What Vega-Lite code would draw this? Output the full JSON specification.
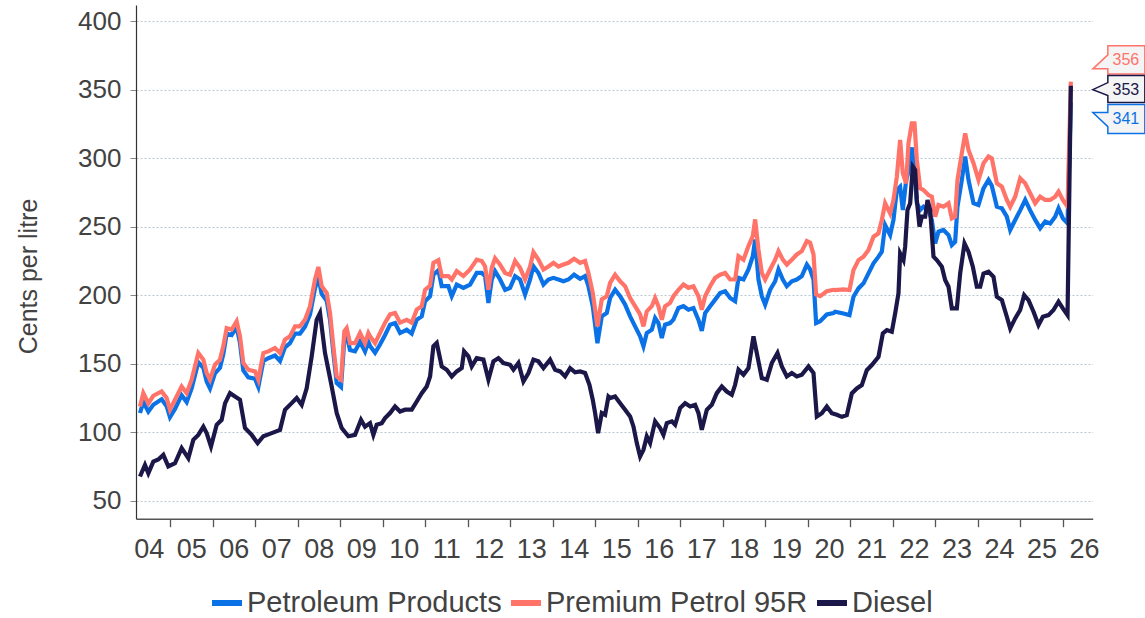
{
  "$schema": "https://vega.github.io/schema/vega-lite/v6.json",
  "width": 956.7,
  "height": 513.7,
  "autosize": "none",
  "padding": {"left": 136, "top": 5, "right": 52.3, "bottom": 99.3},
  "background": "white",
  "config": {
    "font": "Liberation Sans",
    "view": {"stroke": null}
  },
  "datasets": {
    "pp": [
      {"t":2004.294,"v":114},{"t":2004.372,"v":122},{"t":2004.490,"v":115},{"t":2004.607,"v":120},{"t":2004.803,"v":124},{"t":2004.921,"v":119},{"t":2004.999,"v":111},{"t":2005.117,"v":117},{"t":2005.274,"v":127},{"t":2005.392,"v":122},{"t":2005.509,"v":132},{"t":2005.666,"v":151},{"t":2005.784,"v":147},{"t":2005.862,"v":137},{"t":2005.941,"v":132},{"t":2006.058,"v":143},{"t":2006.176,"v":147},{"t":2006.254,"v":157},{"t":2006.333,"v":172},{"t":2006.450,"v":171},{"t":2006.568,"v":177},{"t":2006.646,"v":165},{"t":2006.725,"v":145},{"t":2006.843,"v":140},{"t":2006.999,"v":139},{"t":2007.078,"v":133},{"t":2007.196,"v":152},{"t":2007.313,"v":154},{"t":2007.470,"v":156},{"t":2007.588,"v":152},{"t":2007.705,"v":162},{"t":2007.823,"v":165},{"t":2007.941,"v":172},{"t":2008.058,"v":172},{"t":2008.176,"v":177},{"t":2008.294,"v":186},{"t":2008.411,"v":205},{"t":2008.490,"v":213},{"t":2008.568,"v":201},{"t":2008.686,"v":196},{"t":2008.764,"v":182},{"t":2008.843,"v":158},{"t":2008.921,"v":136},{"t":2009.023,"v":133},{"t":2009.101,"v":168},{"t":2009.156,"v":171},{"t":2009.235,"v":160},{"t":2009.352,"v":159},{"t":2009.470,"v":166},{"t":2009.588,"v":159},{"t":2009.666,"v":166},
      {"t":2009.706,"v":163},{"t":2009.824,"v":158},{"t":2009.941,"v":164},{"t":2010.059,"v":171},{"t":2010.177,"v":178.5},{"t":2010.294,"v":179.7},{"t":2010.412,"v":172.4},{"t":2010.569,"v":174.8},{"t":2010.686,"v":172},{"t":2010.804,"v":182},{"t":2010.922,"v":184.6},{"t":2011.000,"v":195.6},{"t":2011.118,"v":199.3},{"t":2011.196,"v":215},{"t":2011.314,"v":218.3},{"t":2011.392,"v":206.6},{"t":2011.549,"v":206.6},{"t":2011.628,"v":199.3},{"t":2011.745,"v":207.8},{"t":2011.902,"v":205.4},{"t":2012.059,"v":207.8},{"t":2012.216,"v":216.3},{"t":2012.334,"v":216.3},{"t":2012.412,"v":214},{"t":2012.490,"v":194.4},{"t":2012.569,"v":211.5},{"t":2012.647,"v":217.6},{"t":2012.765,"v":211.5},{"t":2012.883,"v":204},{"t":2013.000,"v":205.4},{"t":2013.118,"v":214},{"t":2013.235,"v":211.5},{"t":2013.353,"v":200.5},{"t":2013.471,"v":211.5},{"t":2013.549,"v":221.2},{"t":2013.667,"v":216.3},{"t":2013.785,"v":207.8},{"t":2013.902,"v":211.5},{"t":2014.020,"v":212.7},{"t":2014.137,"v":211.5},{"t":2014.255,"v":210.2},{"t":2014.373,"v":211.5},{"t":2014.506,"v":215},{"t":2014.647,"v":212},{"t":2014.765,"v":214},{"t":2014.843,"v":206.6},{"t":2014.945,"v":192},{"t":2015.055,"v":165},{"t":2015.157,"v":184.6},{"t":2015.275,"v":187},
      {"t":2015.353,"v":198},{"t":2015.471,"v":204},{"t":2015.589,"v":199.3},{"t":2015.706,"v":193.2},{"t":2015.824,"v":184.6},{"t":2015.941,"v":177.3},{"t":2016.059,"v":170},{"t":2016.138,"v":162.7},{"t":2016.216,"v":172.4},{"t":2016.334,"v":174.8},{"t":2016.412,"v":183.4},{"t":2016.490,"v":179.7},{"t":2016.569,"v":168.8},{"t":2016.647,"v":178.5},{"t":2016.765,"v":179.7},{"t":2016.843,"v":182.2},{"t":2016.961,"v":190.7},{"t":2017.079,"v":192},{"t":2017.196,"v":189.5},{"t":2017.314,"v":190.7},{"t":2017.432,"v":182},{"t":2017.510,"v":174},{"t":2017.589,"v":187},{"t":2017.706,"v":192},{"t":2017.824,"v":196.8},{"t":2017.941,"v":201.7},{"t":2018.059,"v":202.9},{"t":2018.177,"v":198},{"t":2018.294,"v":195.6},{"t":2018.373,"v":212.7},{"t":2018.491,"v":211.5},{"t":2018.608,"v":218.8},{"t":2018.710,"v":228.5},{"t":2018.765,"v":240.7},{"t":2018.843,"v":211.5},{"t":2018.922,"v":199.3},{"t":2019.000,"v":193.2},{"t":2019.118,"v":204},{"t":2019.236,"v":210.2},{"t":2019.314,"v":218.8},{"t":2019.416,"v":211.5},{"t":2019.510,"v":206.6},{"t":2019.628,"v":210.2},{"t":2019.746,"v":211.5},{"t":2019.863,"v":214},{"t":2019.981,"v":222.4},{"t":2020.059,"v":218.8},{"t":2020.138,"v":211.5},{"t":2020.200,"v":179.7},{"t":2020.294,"v":181},{"t":2020.451,"v":186},{"t":2020.608,"v":187},
      {"t":2020.647,"v":188},{"t":2020.843,"v":186.7},{"t":2020.984,"v":185.5},{"t":2021.078,"v":198.9},{"t":2021.196,"v":205},{"t":2021.314,"v":208.7},{"t":2021.431,"v":216},{"t":2021.549,"v":223.3},{"t":2021.667,"v":228.2},{"t":2021.745,"v":231.8},{"t":2021.823,"v":251.3},{"t":2021.941,"v":244},{"t":2022.019,"v":255},{"t":2022.098,"v":276.9},{"t":2022.176,"v":279.3},{"t":2022.239,"v":262.3},{"t":2022.318,"v":284.2},{"t":2022.372,"v":290},{"t":2022.451,"v":308},{"t":2022.514,"v":291.5},{"t":2022.569,"v":267.2},{"t":2022.647,"v":262.3},{"t":2022.725,"v":264.7},{"t":2022.843,"v":262.3},{"t":2022.921,"v":255},{"t":2023.000,"v":237.9},{"t":2023.078,"v":246.4},{"t":2023.196,"v":247.7},{"t":2023.314,"v":244},{"t":2023.392,"v":236.7},{"t":2023.470,"v":239.1},{"t":2023.525,"v":264.7},{"t":2023.627,"v":284.2},{"t":2023.706,"v":301.3},{"t":2023.784,"v":284.2},{"t":2023.902,"v":267.2},{"t":2024.019,"v":265.9},{"t":2024.137,"v":278.1},{"t":2024.255,"v":284.2},{"t":2024.333,"v":280},{"t":2024.451,"v":264.7},{"t":2024.569,"v":263.5},{"t":2024.686,"v":257.4},{"t":2024.765,"v":247.7},{"t":2024.882,"v":255},{"t":2025.000,"v":262},{"t":2025.118,"v":269.6},{"t":2025.235,"v":262},{"t":2025.353,"v":255},{"t":2025.470,"v":249},{"t":2025.588,"v":253.8},{"t":2025.706,"v":252.5},{"t":2025.823,"v":257.4},{"t":2025.902,"v":263.5},{"t":2026.004,"v":256.2},{"t":2026.114,"v":252.5},{"t":2026.192,"v":341}
    ],
    "pr": [
      {"t":2004.294,"v":118.8},{"t":2004.372,"v":128.5},{"t":2004.490,"v":121},{"t":2004.607,"v":126.6},{"t":2004.803,"v":129.8},{"t":2004.921,"v":125},{"t":2004.999,"v":116.4},{"t":2005.117,"v":123.7},{"t":2005.274,"v":133.4},{"t":2005.392,"v":128.5},{"t":2005.509,"v":138.3},{"t":2005.666,"v":157.8},{"t":2005.784,"v":153},{"t":2005.862,"v":143.2},{"t":2005.941,"v":138.3},{"t":2006.058,"v":149.3},{"t":2006.176,"v":153},{"t":2006.254,"v":162.7},{"t":2006.333,"v":176},{"t":2006.450,"v":175},{"t":2006.568,"v":181},{"t":2006.646,"v":170},{"t":2006.725,"v":150.5},{"t":2006.843,"v":145.6},{"t":2006.999,"v":144.4},{"t":2007.078,"v":138.3},{"t":2007.196,"v":157.8},{"t":2007.313,"v":159},{"t":2007.470,"v":161.5},{"t":2007.588,"v":157.8},{"t":2007.705,"v":167.6},{"t":2007.823,"v":170},{"t":2007.941,"v":177.3},{"t":2008.058,"v":177.3},{"t":2008.176,"v":182.2},{"t":2008.294,"v":192},{"t":2008.411,"v":211.5},{"t":2008.490,"v":220.7},{"t":2008.568,"v":206.6},{"t":2008.686,"v":201.7},{"t":2008.764,"v":187},{"t":2008.843,"v":162.7},{"t":2008.921,"v":140.7},{"t":2009.023,"v":138.3},{"t":2009.101,"v":173.7},{"t":2009.156,"v":176},{"t":2009.235,"v":165},{"t":2009.352,"v":165},{"t":2009.470,"v":172.4},{"t":2009.588,"v":165},{"t":2009.666,"v":172.4},
      {"t":2009.706,"v":170},{"t":2009.824,"v":165},{"t":2009.941,"v":172.4},{"t":2010.059,"v":180},{"t":2010.177,"v":186},{"t":2010.294,"v":187},{"t":2010.412,"v":180},{"t":2010.569,"v":182},{"t":2010.686,"v":180},{"t":2010.804,"v":189.5},{"t":2010.922,"v":192},{"t":2011.000,"v":204},{"t":2011.118,"v":207},{"t":2011.196,"v":223.7},{"t":2011.314,"v":225.6},{"t":2011.392,"v":214},{"t":2011.549,"v":214},{"t":2011.628,"v":211.5},{"t":2011.745,"v":217.6},{"t":2011.902,"v":214},{"t":2012.059,"v":218.8},{"t":2012.216,"v":226},{"t":2012.334,"v":225},{"t":2012.412,"v":221},{"t":2012.490,"v":204},{"t":2012.569,"v":220},{"t":2012.647,"v":227},{"t":2012.765,"v":222.4},{"t":2012.883,"v":216.3},{"t":2013.000,"v":215},{"t":2013.118,"v":225},{"t":2013.235,"v":220},{"t":2013.353,"v":211.5},{"t":2013.471,"v":221},{"t":2013.549,"v":231.5},{"t":2013.667,"v":226},{"t":2013.785,"v":218.8},{"t":2013.902,"v":221},{"t":2014.020,"v":223.7},{"t":2014.137,"v":221},{"t":2014.255,"v":222.4},{"t":2014.373,"v":223.7},{"t":2014.506,"v":226.6},{"t":2014.647,"v":223.7},{"t":2014.765,"v":225},{"t":2014.843,"v":216.3},{"t":2014.945,"v":201.7},{"t":2015.055,"v":177.3},{"t":2015.157,"v":197},{"t":2015.275,"v":199.3},
      {"t":2015.353,"v":209},{"t":2015.471,"v":215},{"t":2015.589,"v":210.2},{"t":2015.706,"v":206.6},{"t":2015.824,"v":198},{"t":2015.941,"v":192},{"t":2016.059,"v":186},{"t":2016.138,"v":177.3},{"t":2016.216,"v":188.2},{"t":2016.334,"v":192},{"t":2016.412,"v":198},{"t":2016.490,"v":192},{"t":2016.569,"v":182.2},{"t":2016.647,"v":192},{"t":2016.765,"v":194.4},{"t":2016.843,"v":199.3},{"t":2016.961,"v":204},{"t":2017.079,"v":207.8},{"t":2017.196,"v":205.4},{"t":2017.314,"v":206.6},{"t":2017.432,"v":199.3},{"t":2017.510,"v":189.5},{"t":2017.589,"v":199.3},{"t":2017.706,"v":206.6},{"t":2017.824,"v":212.7},{"t":2017.941,"v":215},{"t":2018.059,"v":216.3},{"t":2018.177,"v":211.5},{"t":2018.294,"v":211.5},{"t":2018.373,"v":228.5},{"t":2018.491,"v":226},{"t":2018.608,"v":235.9},{"t":2018.710,"v":243.2},{"t":2018.765,"v":255.4},{"t":2018.843,"v":233.4},{"t":2018.922,"v":216.3},{"t":2019.000,"v":211.5},{"t":2019.118,"v":218.8},{"t":2019.236,"v":226},{"t":2019.314,"v":232.2},{"t":2019.416,"v":226},{"t":2019.510,"v":222.4},{"t":2019.628,"v":226},{"t":2019.746,"v":229.8},{"t":2019.863,"v":232.2},{"t":2019.981,"v":239.5},{"t":2020.059,"v":238.3},{"t":2020.138,"v":229.8},{"t":2020.200,"v":200.5},{"t":2020.294,"v":199.3},{"t":2020.451,"v":202.9},{"t":2020.608,"v":204},
      {"t":2020.647,"v":203.8},{"t":2020.843,"v":204.3},{"t":2020.984,"v":203.8},{"t":2021.078,"v":218.4},{"t":2021.196,"v":225.7},{"t":2021.314,"v":228.2},{"t":2021.431,"v":233},{"t":2021.549,"v":242.8},{"t":2021.667,"v":245.2},{"t":2021.745,"v":255},{"t":2021.823,"v":267.2},{"t":2021.941,"v":259.8},{"t":2022.019,"v":269.6},{"t":2022.098,"v":286.6},{"t":2022.176,"v":313.4},{"t":2022.239,"v":289.1},{"t":2022.318,"v":281.8},{"t":2022.372,"v":311},{"t":2022.451,"v":325.6},{"t":2022.514,"v":325.6},{"t":2022.569,"v":298.8},{"t":2022.647,"v":278.1},{"t":2022.725,"v":276.9},{"t":2022.843,"v":273.2},{"t":2022.921,"v":272},{"t":2023.000,"v":257.4},{"t":2023.078,"v":265.9},{"t":2023.196,"v":264.7},{"t":2023.314,"v":267.2},{"t":2023.392,"v":256.2},{"t":2023.470,"v":257.4},{"t":2023.525,"v":284.2},{"t":2023.627,"v":303.7},{"t":2023.706,"v":318.3},{"t":2023.784,"v":306.1},{"t":2023.902,"v":296.4},{"t":2024.019,"v":284.2},{"t":2024.137,"v":296.4},{"t":2024.255,"v":301.3},{"t":2024.333,"v":300},{"t":2024.451,"v":281.8},{"t":2024.569,"v":279.3},{"t":2024.686,"v":269.6},{"t":2024.765,"v":264.7},{"t":2024.882,"v":272},{"t":2025.000,"v":285.4},{"t":2025.118,"v":281.8},{"t":2025.235,"v":274.5},{"t":2025.353,"v":267.2},{"t":2025.470,"v":272},{"t":2025.588,"v":269.6},{"t":2025.706,"v":269.6},{"t":2025.823,"v":272},{"t":2025.902,"v":275.7},{"t":2026.004,"v":269.6},{"t":2026.114,"v":264.7},{"t":2026.192,"v":356}
    ],
    "ds": [
      {"t":2004.294,"v":67.6},{"t":2004.411,"v":76},{"t":2004.490,"v":70},{"t":2004.607,"v":78.5},{"t":2004.725,"v":80},{"t":2004.843,"v":83.4},{"t":2004.960,"v":75},{"t":2005.117,"v":77.3},{"t":2005.274,"v":88.3},{"t":2005.431,"v":81},{"t":2005.548,"v":94.4},{"t":2005.666,"v":98},{"t":2005.784,"v":104},{"t":2005.862,"v":99.3},{"t":2005.964,"v":89.5},{"t":2006.098,"v":105.4},{"t":2006.215,"v":109},{"t":2006.294,"v":121},{"t":2006.411,"v":128.5},{"t":2006.529,"v":126},{"t":2006.646,"v":123.7},{"t":2006.764,"v":103},{"t":2006.921,"v":98},{"t":2007.062,"v":92},{"t":2007.196,"v":97},{"t":2007.392,"v":99.3},{"t":2007.588,"v":101.7},{"t":2007.705,"v":116.4},{"t":2007.862,"v":121.2},{"t":2007.980,"v":125},{"t":2008.098,"v":120},{"t":2008.215,"v":132},{"t":2008.333,"v":155.4},{"t":2008.450,"v":182},{"t":2008.529,"v":187},{"t":2008.646,"v":157.8},{"t":2008.803,"v":133.4},{"t":2008.921,"v":114},{"t":2009.039,"v":103},{"t":2009.195,"v":97},{"t":2009.352,"v":98},{"t":2009.493,"v":109},{"t":2009.588,"v":104},{"t":2009.705,"v":106.6},
      {"t":2009.784,"v":98},{"t":2009.863,"v":105.4},{"t":2009.981,"v":106.6},{"t":2010.059,"v":110.3},{"t":2010.177,"v":114},{"t":2010.294,"v":118.8},{"t":2010.412,"v":115.1},{"t":2010.530,"v":116.4},{"t":2010.686,"v":116.4},{"t":2010.804,"v":122.4},{"t":2010.922,"v":128.5},{"t":2011.039,"v":133.4},{"t":2011.118,"v":140.7},{"t":2011.196,"v":162.7},{"t":2011.275,"v":165.1},{"t":2011.392,"v":148},{"t":2011.510,"v":145.6},{"t":2011.628,"v":140.7},{"t":2011.745,"v":144.4},{"t":2011.863,"v":146.8},{"t":2011.918,"v":159},{"t":2012.020,"v":155.4},{"t":2012.098,"v":148},{"t":2012.216,"v":154.1},{"t":2012.373,"v":153},{"t":2012.490,"v":138.3},{"t":2012.608,"v":151.7},{"t":2012.726,"v":154.1},{"t":2012.843,"v":150.5},{"t":2013.000,"v":149.2},{"t":2013.079,"v":145.6},{"t":2013.196,"v":150.5},{"t":2013.314,"v":137},{"t":2013.432,"v":143.2},{"t":2013.549,"v":153},{"t":2013.667,"v":151.7},{"t":2013.785,"v":146.8},{"t":2013.941,"v":153},{"t":2014.059,"v":145.6},{"t":2014.177,"v":144.4},{"t":2014.294,"v":140.7},{"t":2014.412,"v":146.8},{"t":2014.530,"v":143.7},{"t":2014.647,"v":144.4},{"t":2014.765,"v":143.2},{"t":2014.867,"v":134.6},{"t":2014.945,"v":123.7},{"t":2015.000,"v":114},{"t":2015.071,"v":99.3},{"t":2015.157,"v":114},{"t":2015.236,"v":112.7},{"t":2015.314,"v":126},
      {"t":2015.353,"v":124.9},{"t":2015.471,"v":126.1},{"t":2015.589,"v":121.2},{"t":2015.706,"v":116.4},{"t":2015.824,"v":111.5},{"t":2015.902,"v":104.2},{"t":2015.981,"v":92},{"t":2016.059,"v":82.2},{"t":2016.138,"v":87.1},{"t":2016.216,"v":96.9},{"t":2016.294,"v":92},{"t":2016.412,"v":107.9},{"t":2016.530,"v":103},{"t":2016.608,"v":98},{"t":2016.687,"v":106.6},{"t":2016.805,"v":107.9},{"t":2016.883,"v":105.4},{"t":2017.000,"v":117.6},{"t":2017.118,"v":121.2},{"t":2017.236,"v":118.8},{"t":2017.353,"v":120},{"t":2017.432,"v":113.9},{"t":2017.510,"v":101.7},{"t":2017.628,"v":116.4},{"t":2017.745,"v":120},{"t":2017.863,"v":128.5},{"t":2017.981,"v":133.4},{"t":2018.098,"v":129.7},{"t":2018.216,"v":127.3},{"t":2018.294,"v":134.6},{"t":2018.373,"v":145.6},{"t":2018.491,"v":141.9},{"t":2018.608,"v":146.8},{"t":2018.726,"v":170},{"t":2018.804,"v":157.8},{"t":2018.922,"v":139.5},{"t":2019.040,"v":138.3},{"t":2019.157,"v":150.5},{"t":2019.291,"v":157.8},{"t":2019.393,"v":148},{"t":2019.510,"v":140.7},{"t":2019.628,"v":143.2},{"t":2019.746,"v":140.7},{"t":2019.863,"v":141.9},{"t":2020.020,"v":148},{"t":2020.138,"v":143.2},{"t":2020.216,"v":111.5},{"t":2020.334,"v":113.9},{"t":2020.451,"v":118.8},{"t":2020.569,"v":113.9},{"t":2020.687,"v":112.7},
      {"t":2020.804,"v":111.2},{"t":2020.921,"v":112.4},{"t":2021.039,"v":128.3},{"t":2021.157,"v":131.9},{"t":2021.274,"v":134.4},{"t":2021.392,"v":145.3},{"t":2021.510,"v":149},{"t":2021.667,"v":155.1},{"t":2021.769,"v":172.1},{"t":2021.863,"v":174.6},{"t":2021.980,"v":173.3},{"t":2022.059,"v":186.7},{"t":2022.137,"v":201.4},{"t":2022.176,"v":230.6},{"t":2022.255,"v":225.7},{"t":2022.294,"v":235.5},{"t":2022.349,"v":262.3},{"t":2022.412,"v":267.2},{"t":2022.474,"v":294},{"t":2022.529,"v":291.5},{"t":2022.569,"v":269.6},{"t":2022.631,"v":250.1},{"t":2022.686,"v":257.4},{"t":2022.765,"v":257.4},{"t":2022.820,"v":269.6},{"t":2022.882,"v":262.3},{"t":2022.961,"v":228.2},{"t":2023.039,"v":225.7},{"t":2023.157,"v":220.9},{"t":2023.235,"v":211.1},{"t":2023.314,"v":206.2},{"t":2023.392,"v":190.4},{"t":2023.510,"v":190.4},{"t":2023.588,"v":215.9},{"t":2023.690,"v":237.9},{"t":2023.784,"v":231.8},{"t":2023.886,"v":220.9},{"t":2023.980,"v":206.2},{"t":2024.059,"v":206.2},{"t":2024.137,"v":215.9},{"t":2024.255,"v":217.2},{"t":2024.372,"v":213.5},{"t":2024.451,"v":198.9},{"t":2024.569,"v":196.5},{"t":2024.686,"v":184.3},{"t":2024.765,"v":175.8},{"t":2024.882,"v":183.1},{"t":2025.000,"v":189.2},{"t":2025.094,"v":200.1},{"t":2025.196,"v":196.5},{"t":2025.314,"v":188},{"t":2025.431,"v":178.2},{"t":2025.533,"v":184.3},{"t":2025.666,"v":185.5},{"t":2025.784,"v":189.2},{"t":2025.902,"v":195.3},{"t":2026.004,"v":190.4},{"t":2026.114,"v":185.5},{"t":2026.192,"v":353}
    ],
    "end": [
      {"t":2026.192,"v":356,"s":"pr"},
      {"t":2026.192,"v":353,"s":"ds"},
      {"t":2026.192,"v":341,"s":"pp"}
    ]
  },
  "encoding": {
    "x": {
      "field": "t",
      "type": "quantitative",
      "scale": {"domain": [2004.2, 2026.706], "nice": false, "zero": false},
      "axis": {
        "title": null,
        "grid": false,
        "values": [2004.5,2005.5,2006.5,2007.5,2008.5,2009.5,2010.5,2011.5,2012.5,2013.5,2014.5,2015.5,2016.5,2017.5,2018.5,2019.5,2020.5,2021.5,2022.5,2023.5,2024.5,2025.5,2026.5],
        "labelExpr": "slice(toString(floor(datum.value)), 2)",
        "tickOffset": 21.25,
        "labelOffset": -21.25,
        "tickSize": 8,
        "tickWidth": 1.3,
        "tickColor": {"condition": {"test": "datum.value > 2026", "value": "transparent"}, "value": "#555555"},
        "domainColor": "#555555",
        "domainWidth": 1.5,
        "labelFontSize": 27,
        "labelColor": "#424242",
        "labelPadding": 10,
        "labelOverlap": false,
        "labelFlush": false
      }
    },
    "y": {
      "field": "v",
      "type": "quantitative",
      "scale": {"domain": [36.8, 412], "nice": false, "zero": false},
      "axis": {
        "title": "Cents per litre",
        "titleFontSize": 25,
        "titleFontWeight": "normal",
        "titleColor": "#424242",
        "titlePadding": 36,
        "titleY": 271,
        "values": [50,100,150,200,250,300,350,400],
        "grid": true,
        "gridColor": "#b8c8d2",
        "gridDash": [2, 2],
        "gridWidth": 1,
        "tickSize": 6,
        "tickColor": "#888888",
        "domainColor": "#333333",
        "domainWidth": 1.2,
        "labelFontSize": 26,
        "labelColor": "#424242",
        "labelPadding": 9
      }
    }
  },
  "layer": [
    {
      "data": {"name": "pp"},
      "mark": {"type": "line", "strokeWidth": 4.2, "interpolate": "linear"},
      "encoding": {
        "color": {
          "datum": "Petroleum Products",
          "type": "nominal",
          "scale": {
            "domain": ["Petroleum Products", "Premium Petrol 95R", "Diesel"],
            "range": ["#0a72e6", "#ff7369", "#1b1748"]
          },
          "legend": {
            "title": null,
            "orient": "none",
            "direction": "horizontal",
            "legendX": 73,
            "legendY": 580,
            "symbolType": "stroke",
            "symbolStrokeWidth": 6,
            "symbolSize": 900,
            "labelFontSize": 29,
            "labelColor": "#424242",
            "labelLimit": 500,
            "labelOffset": 2,
            "columnPadding": -3,
            "padding": 0
          }
        }
      }
    },
    {
      "data": {"name": "pr"},
      "mark": {"type": "line", "strokeWidth": 4.2},
      "encoding": {"color": {"datum": "Premium Petrol 95R", "type": "nominal"}}
    },
    {
      "data": {"name": "ds"},
      "mark": {"type": "line", "strokeWidth": 4.2},
      "encoding": {"color": {"datum": "Diesel", "type": "nominal"}}
    },
    {
      "data": {"name": "end"},
      "transform": [{"filter": "datum.s == 'pr'"}],
      "mark": {"type": "point", "shape": "M0,0 L0.5,-0.467 L0.5,-0.767 L1.733,-0.767 L1.733,0.167 L0.5,0.167 L0.5,0 Z", "size": 3600, "filled": true, "fill": "#f4f4f4", "stroke": "#ff7369", "strokeWidth": 1.5, "opacity": 1, "xOffset": 22, "yOffset": -12.8}
    },
    {
      "data": {"name": "end"},
      "transform": [{"filter": "datum.s == 'pr'"}],
      "mark": {"type": "text", "dx": 55, "dy": -21.6, "fontSize": 16, "align": "center", "baseline": "middle", "color": "#ff7369"},
      "encoding": {"text": {"field": "v", "type": "quantitative"}}
    },
    {
      "data": {"name": "end"},
      "transform": [{"filter": "datum.s == 'ds'"}],
      "mark": {"type": "point", "shape": "M0,0 L0.5,-0.233 L0.5,-0.467 L1.733,-0.467 L1.733,0.433 L0.5,0.433 L0.5,0.2 Z", "size": 3600, "filled": true, "fill": "#f4f4f4", "stroke": "#1b1748", "strokeWidth": 1.5, "opacity": 1, "xOffset": 22, "yOffset": 3.8}
    },
    {
      "data": {"name": "end"},
      "transform": [{"filter": "datum.s == 'ds'"}],
      "mark": {"type": "text", "dx": 55, "dy": 3.8, "fontSize": 16, "align": "center", "baseline": "middle", "color": "#1b1748"},
      "encoding": {"text": {"field": "v", "type": "quantitative"}}
    },
    {
      "data": {"name": "end"},
      "transform": [{"filter": "datum.s == 'pp'"}],
      "mark": {"type": "point", "shape": "M0,0 L0.5,0 L0.5,-0.267 L1.733,-0.267 L1.733,0.7 L0.5,0.7 L0.5,0.467 Z", "size": 3600, "filled": true, "fill": "#f4f4f4", "stroke": "#0a72e6", "strokeWidth": 1.5, "opacity": 1, "xOffset": 22, "yOffset": 10.4}
    },
    {
      "data": {"name": "end"},
      "transform": [{"filter": "datum.s == 'pp'"}],
      "mark": {"type": "text", "dx": 55, "dy": 16.4, "fontSize": 16, "align": "center", "baseline": "middle", "color": "#0a72e6"},
      "encoding": {"text": {"field": "v", "type": "quantitative"}}
    }
  ]
}
